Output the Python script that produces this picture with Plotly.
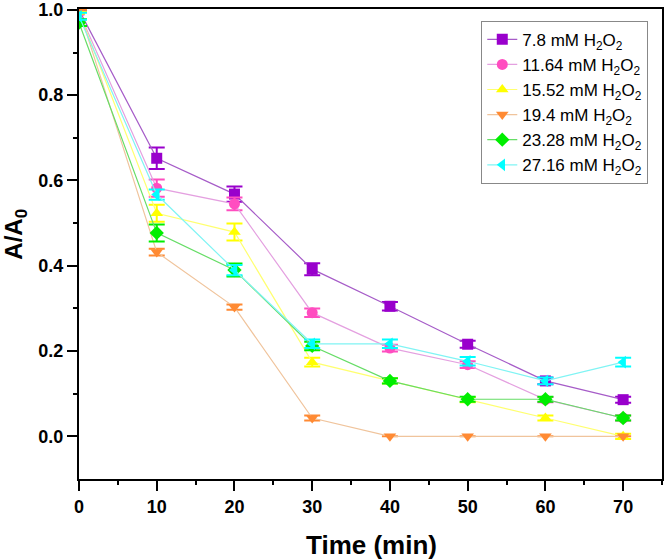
import plotly.graph_objects as go

# time axis (min)
time_min = [0, 10, 20, 30, 40, 50, 60, 70]

names = ["7.8 mM H<sub>2</sub>O<sub>2</sub>", "11.64 mM H<sub>2</sub>O<sub>2</sub>",
         "15.52 mM H<sub>2</sub>O<sub>2</sub>", "19.4 mM H<sub>2</sub>O<sub>2</sub>",
         "23.28 mM H<sub>2</sub>O<sub>2</sub>", "27.16 mM H<sub>2</sub>O<sub>2</sub>"]

# A/A0 values
h2o2_7_8 = [1.0, 0.652, 0.568, 0.392, 0.305, 0.216, 0.130, 0.086]
h2o2_11_64 = [0.995, 0.582, 0.545, 0.290, 0.207, 0.168, 0.086, 0.043]
h2o2_15_52 = [0.995, 0.523, 0.479, 0.174, 0.130, 0.086, 0.043, 0.0]
h2o2_19_4 = [1.0, 0.432, 0.303, 0.043, 0.0, 0.0, 0.0, 0.0]
h2o2_23_28 = [0.97, 0.477, 0.390, 0.212, 0.130, 0.087, 0.087, 0.043]
h2o2_27_16 = [0.985, 0.567, 0.390, 0.217, 0.217, 0.176, 0.130, 0.174]

# error bars
err_7_8 = [0.0, 0.025, 0.018, 0.014, 0.010, 0.008, 0.008, 0.007]
err_11_64 = [0.0, 0.020, 0.015, 0.010, 0.008, 0.008, 0.006, 0.006]
err_15_52 = [0.0, 0.020, 0.020, 0.010, 0.006, 0.006, 0.006, 0.006]
err_19_4 = [0.0, 0.008, 0.006, 0.006, 0.0, 0.0, 0.0, 0.0]
err_23_28 = [0.008, 0.020, 0.015, 0.010, 0.006, 0.006, 0.006, 0.006]
err_27_16 = [0.008, 0.012, 0.012, 0.010, 0.010, 0.010, 0.008, 0.010]

series = [h2o2_7_8, h2o2_11_64, h2o2_15_52, h2o2_19_4, h2o2_23_28, h2o2_27_16]
errors = [err_7_8, err_11_64, err_15_52, err_19_4, err_23_28, err_27_16]
marker_colors = ["#9900cc", "#ff4dc0", "#ffff00", "#ff8a33", "#00ee00", "#00ffff"]
line_colors = ["#a65cc8", "#e4a0e0", "#ffff70", "#f0c49c", "#66dd66", "#80f4f4"]
symbols = ["square", "circle", "triangle-up", "triangle-down", "diamond", "triangle-left"]

FONT = "Liberation Sans, Arial, sans-serif"

fig = go.Figure()
for i in range(len(series)):
    fig.add_trace(go.Scatter(
        x=time_min, y=series[i], name=names[i], mode="lines+markers",
        line=dict(color=line_colors[i], width=1.2),
        marker=dict(symbol=symbols[i], color=marker_colors[i], size=11),
        error_y=dict(type="data", array=errors[i], visible=True,
                     color=marker_colors[i], thickness=2, width=8)))

fig.update_xaxes(range=[0, 75], tickvals=[0, 10, 20, 30, 40, 50, 60, 70],
                 ticks="outside", ticklen=10, tickwidth=2, tickcolor="black",
                 minor=dict(dtick=5, ticks="outside", ticklen=4, tickwidth=2, tickcolor="black"),
                 showline=True, linecolor="black", linewidth=2, mirror=True,
                 showgrid=False, zeroline=False, automargin=False,
                 tickfont=dict(family=FONT, size=18, color="black", weight="bold"))
fig.update_yaxes(range=[-0.1, 1.002], tickvals=[0.0, 0.2, 0.4, 0.6, 0.8, 1.0], tickformat=".1f",
                 ticks="outside", ticklen=10, tickwidth=2, tickcolor="black",
                 minor=dict(tickvals=[0.1, 0.3, 0.5, 0.7, 0.9], ticks="outside", ticklen=4,
                            tickwidth=2, tickcolor="black"),
                 showline=True, linecolor="black", linewidth=2, mirror=True,
                 showgrid=False, zeroline=False, automargin=False,
                 tickfont=dict(family=FONT, size=18, color="black", weight="bold"))

# axis titles as annotations so they sit where the original puts them
fig.add_annotation(text="<b>Time (min)</b>", xref="paper", yref="paper", x=0.501, y=-0.14,
                   xanchor="center", yanchor="middle", showarrow=False,
                   font=dict(family=FONT, size=26, color="black"))
fig.add_annotation(text="<b>A/A<sub>0</sub></b>", xref="paper", yref="paper", x=-0.108, y=0.52,
                   xanchor="center", yanchor="middle", showarrow=False, textangle=-90,
                   font=dict(family=FONT, size=24, color="black"))

fig.update_layout(
    width=664, height=560,
    margin=dict(l=79, r=2, t=9, b=81),
    plot_bgcolor="white", paper_bgcolor="white",
    font=dict(family=FONT, color="black"),
    legend=dict(x=0.69, y=0.975, xanchor="left", yanchor="top",
                bordercolor="#888888", borderwidth=1, bgcolor="white",
                font=dict(family=FONT, size=17, color="black"),
                tracegroupgap=0),
)

# drop the default page margin so the figure starts at the window corner
fig.write_html("out.html", config={"displayModeBar": False},
               post_script="document.body.style.margin='0';")
